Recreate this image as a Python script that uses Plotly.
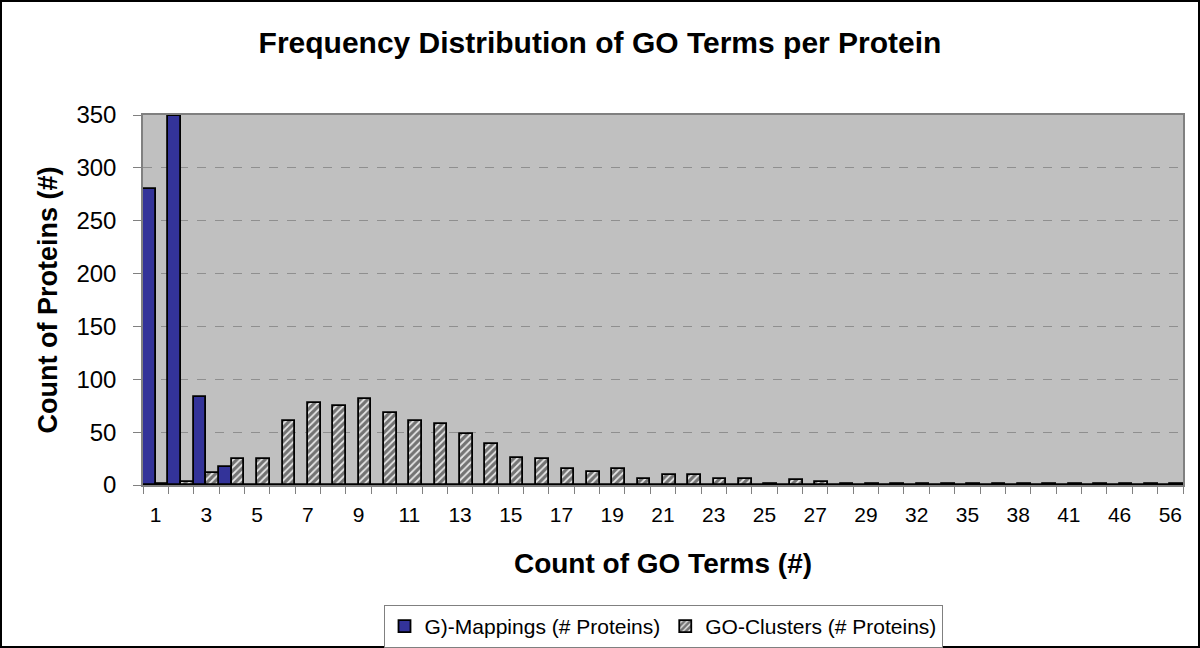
import plotly.graph_objects as go

categories = [str(c) for c in list(range(1, 30)) + [30, 32, 34, 35, 37, 38, 40, 41, 44, 46, 50, 56]]
tick_labels = ["1", "3", "5", "7", "9", "11", "13", "15", "17", "19", "21", "23", "25", "27", "29",
               "32", "35", "38", "41", "46", "56"]
go_mappings = [280, 349, 83, 17] + [0] * 37
go_clusters = [1, 3, 11, 25, 25, 61, 78, 75, 81, 68, 61, 58, 48, 39, 26, 25, 15, 12, 15, 6,
               9, 9, 6, 6, 1, 5, 3] + [1] * 14

ticktext = [c if c in tick_labels else "" for c in categories]

fig = go.Figure()
fig.add_trace(go.Bar(
    x=categories, y=go_mappings, name="G)-Mappings (# Proteins)",
    marker=dict(color="#333399", line=dict(color="black", width=1.8)),
))
fig.add_trace(go.Bar(
    x=categories, y=go_clusters, name="GO-Clusters (# Proteins)",
    marker=dict(color="white", line=dict(color="black", width=1.8),
                pattern=dict(shape="/", fgcolor="#000000", bgcolor="#e6e6e6", size=5, solidity=0.65)),
))

W, H = 1200, 648
ml, mr, mt, mb = 143, 17, 115, 163
pw, ph = W - ml - mr, H - mt - mb

fig.update_layout(
    width=W, height=H,
    margin=dict(l=ml, r=mr, t=mt, b=mb, autoexpand=False),
    paper_bgcolor="white", plot_bgcolor="#C0C0C0",
    barmode="group", bargap=0, bargroupgap=0,
    font=dict(family="Liberation Sans, Arial, sans-serif", color="black"),
    title=dict(text="<b>Frequency Distribution of GO Terms per Protein</b>",
               x=0.5, xanchor="center", y=1 - 42 / H, yanchor="middle",
               font=dict(size=30)),
    xaxis=dict(
        type="category", tickmode="array", tickvals=categories, ticktext=ticktext,
        tickangle=0, automargin=False,
        tickson="boundaries", ticks="outside", ticklen=7, tickcolor="#808080",
        ticklabelstandoff=10,
        tickfont=dict(size=21), showgrid=False,
        showline=True, linecolor="#808080", linewidth=1.5, mirror=True,
        title=dict(text="<b>Count of GO Terms (#)</b>", font=dict(size=28), standoff=28),
    ),
    yaxis=dict(
        range=[0, 350], tickvals=[0, 50, 100, 150, 200, 250, 300, 350],
        automargin=False,
        ticks="outside", ticklen=8, tickcolor="#808080", tickfont=dict(size=24),
        ticklabelstandoff=12,
        showgrid=True, gridcolor="#8f8f8f", griddash="dash", gridwidth=1,
        showline=True, linecolor="#808080", linewidth=1.5, mirror=True,
        zeroline=False,
        title=dict(text="<b>Count of Proteins (#)</b>", font=dict(size=27), standoff=11),
    ),
    legend=dict(orientation="h", x=0.5, xanchor="center", y=-(605 - mt - ph) / ph,
                yanchor="top", bordercolor="#808080", borderwidth=1,
                font=dict(size=21), traceorder="normal", itemwidth=30),
    shapes=[dict(type="rect", xref="paper", yref="paper",
                 x0=-(ml - 1) / pw, x1=1 + (mr - 1) / pw,
                 y0=-(mb - 1) / ph, y1=1 + (mt - 1) / ph,
                 line=dict(color="black", width=2), fillcolor="rgba(0,0,0,0)", layer="below")],
)

fig.write_html("out.html", config={"displayModeBar": False},
               post_script="document.body.style.margin='0';document.body.style.overflow='hidden';")
